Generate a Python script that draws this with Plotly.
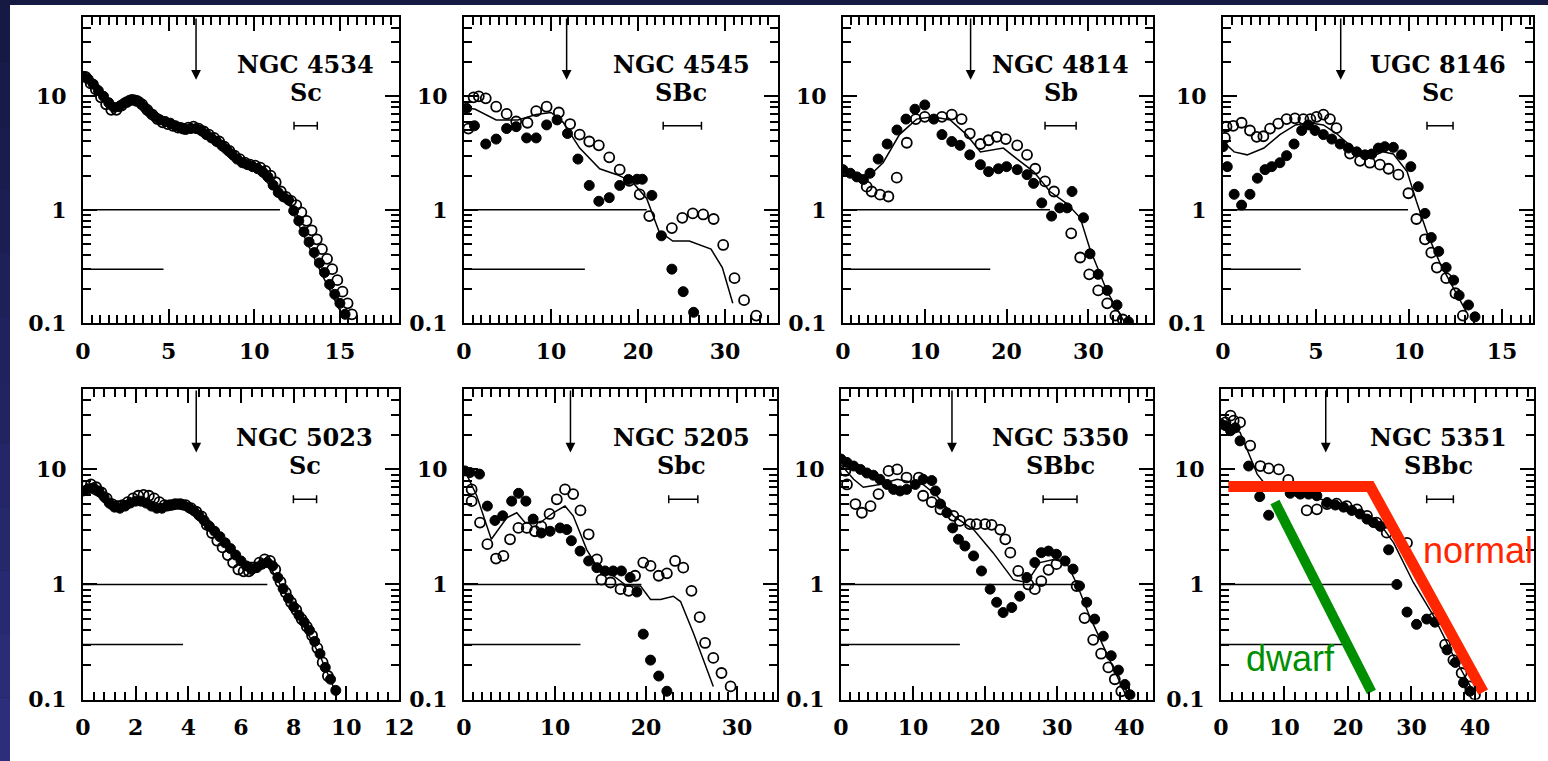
import numpy as np
import plotly.graph_objects as go

W, H = 1548, 761

# ---------------- data ----------------
names = ["NGC 4534", "NGC 4545", "NGC 4814", "UGC 8146",
         "NGC 5023", "NGC 5205", "NGC 5350", "NGC 5351"]
types = ["Sc", "SBc", "Sb", "Sc", "Sc", "Sbc", "SBbc", "SBbc"]
x_max = [18.45, 36.1, 37.9, 16.67, 12.0, 34.4, 43.3, 49.3]
x_major = [5, 10, 10, 5, 2, 10, 10, 10]
x_minor = [0.5, 1, 1, 0.5, 0.4, 1, 1.25, 5 / 3]
y_ticks = [0.1, 1, 10]
y_ticktext = ["0.1", "1", "10"]
y_minor = [0.2, 0.3, 0.4, 0.5, 0.6, 0.7, 0.8, 0.9, 2, 3, 4, 5, 6, 7, 8, 9, 20, 30, 40]
y_min, y_max = 0.1, 50

arrow_r = [6.6, 11.8, 15.6, 6.33, 4.3, 11.7, 15.4, 16.5]
arrow_tip = 14
unity_end = [11.5, 21.0, 25.3, 9.95, 7.0, 19.5, 32.7, 27.1]
low_end = [4.7, 13.9, 18.0, 4.18, 3.8, 12.8, 16.5, 19.2]
low_level = 0.3
label_r = [13.0, 25.0, 26.6, 11.57, 8.43, 23.9, 30.4, 34.2]
label_mu_name = 19.0
label_mu_type = 10.8
err_r = [13.0, 25.1, 26.6, 11.67, 8.43, 24.1, 30.4, 34.5]
err_half = [0.68, 2.2, 1.9, 0.7, 0.44, 1.6, 2.35, 2.1]
err_mu = 5.5

# NGC 4534
p1_r_fill = [0.0, 0.3, 0.6, 0.9, 1.2, 1.5, 1.8, 2.1, 2.4, 2.7, 3.0, 3.3, 3.6, 3.9, 4.2, 4.5, 4.8, 5.1, 5.4, 5.7,
             6.0, 6.3, 6.6, 6.9, 7.2, 7.5, 7.8, 8.1, 8.4, 8.7, 9.0, 9.3, 9.6, 9.9, 10.2, 10.5, 10.8, 11.1, 11.4,
             11.7, 12.0, 12.3, 12.6, 12.9, 13.2, 13.5, 13.8, 14.1, 14.4, 14.7, 15.0, 15.3]
p1_mu_fill = [15.0, 14.2, 12.8, 11.2, 10.0, 8.8, 8.0, 8.1, 8.7, 9.2, 9.3, 8.9, 8.0, 7.2, 6.6, 6.2, 6.0, 5.8, 5.5,
              5.3, 5.1, 5.2, 5.2, 5.0, 4.6, 4.3, 4.0, 3.7, 3.4, 3.1, 2.8, 2.6, 2.5, 2.4, 2.3, 2.15, 1.95, 1.65,
              1.42, 1.3, 1.22, 0.98, 0.8, 0.64, 0.52, 0.42, 0.34, 0.28, 0.22, 0.18, 0.15, 0.12]
p1_r_open = [0.15, 0.45, 0.75, 1.05, 1.35, 1.65, 1.95, 2.25, 2.55, 2.85, 3.15, 3.45, 3.75, 4.05, 4.35, 4.65, 4.95,
             5.25, 5.55, 5.85, 6.15, 6.45, 6.75, 7.05, 7.35, 7.65, 7.95, 8.25, 8.55, 8.85, 9.15, 9.45, 9.75, 10.05,
             10.35, 10.65, 10.95, 11.25, 11.55, 11.85, 12.15, 12.45, 12.75, 13.05, 13.35, 13.65, 13.95, 14.25,
             14.55, 14.85, 15.15, 15.45, 15.7]
p1_mu_open = [14.8, 13.0, 11.5, 9.8, 8.5, 7.6, 7.6, 8.3, 8.9, 9.3, 9.1, 8.5, 7.6, 6.9, 6.3, 5.9, 5.7, 5.5, 5.3,
              5.2, 5.3, 5.4, 5.2, 4.9, 4.6, 4.3, 4.0, 3.6, 3.3, 3.0, 2.8, 2.6, 2.5, 2.45, 2.35, 2.2, 2.0, 1.75,
              1.45, 1.3, 1.2, 1.1, 0.95, 0.8, 0.66, 0.55, 0.45, 0.37, 0.3, 0.24, 0.19, 0.15, 0.12]
p1_r_line = [0, 1, 2, 3, 4, 5, 6, 7, 8, 9, 10, 11, 12, 13, 14, 15]
p1_mu_line = [15, 10.8, 7.9, 9.2, 6.7, 5.8, 5.2, 4.7, 3.7, 2.7, 2.3, 1.6, 1.15, 0.55, 0.26, 0.13]

# NGC 4545
p2_r_open = [0.5, 1.1, 1.7, 2.5, 3.7, 4.9, 6.0, 7.3, 8.3, 9.5, 10.9, 12.2, 13.3, 14.4, 15.5, 16.7, 17.9, 19.0,
             20.2, 21.3, 23.9, 25.1, 26.3, 27.5, 28.7, 29.8, 31.1, 32.2, 33.6]
p2_mu_open = [5.2, 9.8, 10.0, 9.6, 8.1, 7.0, 6.0, 5.85, 7.4, 8.1, 7.2, 5.7, 4.6, 4.0, 3.7, 2.9, 2.26, 1.8, 1.37,
              0.88, 0.69, 0.85, 0.93, 0.91, 0.83, 0.49, 0.25, 0.16, 0.117]
p2_r_fill = [0.3, 1.2, 2.5, 3.7, 4.9, 6.0, 7.2, 8.3, 9.5, 10.7, 11.9, 13.1, 14.4, 15.5, 16.7, 17.9, 18.9, 19.9,
             20.5, 21.6, 22.7, 23.9, 25.2, 26.4]
p2_mu_fill = [7.85, 5.5, 3.8, 4.2, 5.2, 5.4, 4.3, 4.3, 5.6, 6.2, 4.7, 2.8, 1.64, 1.19, 1.28, 1.64, 1.85, 1.86,
              1.86, 1.34, 0.59, 0.30, 0.19, 0.125]
p2_r_line = [0, 1.3, 3.7, 6.2, 8.3, 10.0, 11.4, 13.3, 15.6, 17.5, 19.3, 21.0, 22.4, 24.0, 25.9, 28.4, 29.7, 30.9]
p2_mu_line = [8.0, 7.7, 6.2, 6.2, 6.9, 7.2, 5.9, 3.5, 2.3, 2.05, 1.78, 1.26, 0.65, 0.53, 0.53, 0.45, 0.31, 0.15]

# NGC 4814
p3_r_open = [2.9, 3.5, 4.53, 5.55, 6.57, 7.8, 8.9, 10.0, 12.1, 13.3, 14.5, 15.5, 16.8, 17.8, 18.8, 19.9, 21.3,
             22.5, 23.5, 24.7, 25.8, 27.9, 29.0, 30.1, 31.2, 32.3, 33.3, 34.2]
p3_mu_open = [1.6, 1.45, 1.36, 1.31, 1.92, 3.9, 6.3, 6.6, 6.6, 6.9, 6.3, 4.7, 3.8, 4.1, 4.4, 4.2, 3.7, 3.05,
              2.3, 1.78, 1.45, 0.62, 0.38, 0.27, 0.195, 0.15, 0.117, 0.108]
p3_r_fill = [0, 0.9, 1.7, 2.5, 3.3, 4.3, 5.4, 6.6, 7.7, 8.8, 10.0, 11.1, 12.1, 13.3, 14.3, 15.5, 16.8, 17.8,
             19.0, 20.0, 21.3, 22.5, 23.3, 24.3, 25.5, 26.5, 27.4, 28.0, 29.4, 30.2, 31.2, 32.3, 33.5, 34.9]
p3_mu_fill = [2.26, 2.1, 1.95, 1.85, 2.1, 2.8, 3.8, 5.05, 6.3, 7.7, 8.4, 6.3, 4.6, 4.0, 3.7, 3.05, 2.5, 2.17,
              2.3, 2.4, 2.26, 2.04, 1.71, 1.15, 0.88, 1.04, 1.04, 1.45, 0.85, 0.41, 0.27, 0.195, 0.145, 0.103]
p3_r_line = [0, 2.9, 4.9, 6.9, 9.0, 11.0, 13.1, 15.1, 16.8, 18.2, 19.6, 21.3, 23.3, 25.3, 27.4, 29.0, 30.2,
             32.3, 34.5]
p3_mu_line = [2.26, 1.9, 2.6, 4.6, 6.3, 6.6, 6.2, 4.6, 3.24, 3.36, 3.5, 2.8, 2.17, 1.45, 1.13, 0.85, 0.45,
              0.19, 0.1]

# UGC 8146
p4_r_open = [0.1, 0.19, 0.55, 1.0, 1.45, 1.81, 2.17, 2.53, 2.97, 3.42, 3.87, 4.32, 4.7, 5.03, 5.4, 5.75, 6.1,
             6.83, 7.37, 7.9, 8.44, 8.9, 9.43, 9.97, 10.4, 10.86, 11.2, 11.5, 12.0, 12.5, 12.9]
p4_mu_open = [4.3, 5.4, 5.5, 5.85, 5.0, 4.4, 4.45, 5.2, 5.75, 6.3, 6.4, 6.3, 6.3, 6.6, 6.9, 6.3, 5.25, 3.13,
              2.7, 2.6, 2.5, 2.3, 2.04, 1.4, 0.83, 0.55, 0.42, 0.31, 0.25, 0.184, 0.117]
p4_r_fill = [0, 0.23, 0.6, 1.0, 1.45, 1.85, 2.26, 2.62, 3.06, 3.42, 3.82, 4.23, 4.59, 4.95, 5.4, 5.85, 6.3,
             6.74, 7.19, 7.64, 8.0, 8.36, 8.7, 9.16, 9.6, 10.1, 10.5, 10.86, 11.2, 11.6, 12.0, 12.4, 12.7,
             13.2, 13.55]
p4_mu_fill = [3.6, 2.4, 1.37, 1.1, 1.37, 1.9, 2.26, 2.4, 2.6, 3.0, 3.8, 5.0, 5.6, 5.0, 4.6, 4.2, 3.8, 3.5,
              3.24, 3.05, 3.1, 3.5, 3.6, 3.55, 3.05, 2.4, 1.6, 0.93, 0.57, 0.43, 0.31, 0.24, 0.176, 0.145, 0.114]
p4_r_line = [0, 0.6, 1.3, 2.2, 3.06, 3.9, 4.6, 5.4, 6.1, 7.0, 7.9, 8.6, 9.16, 9.9, 10.4, 11.0, 11.7, 12.4, 13.1]
p4_mu_line = [4.0, 3.24, 3.05, 3.5, 4.6, 5.6, 5.85, 5.6, 4.7, 3.5, 2.9, 3.24, 3.1, 2.17, 1.19, 0.61, 0.33,
              0.2, 0.125]

# NGC 5023
p5_r_fill = [0.0, 0.2, 0.4, 0.6, 0.8, 1.0, 1.2, 1.4, 1.6, 1.8, 2.0, 2.2, 2.4, 2.6, 2.8, 3.0, 3.2, 3.4, 3.6, 3.8,
             4.0, 4.2, 4.4, 4.6, 4.8, 5.0, 5.2, 5.4, 5.6, 5.8, 6.0, 6.2, 6.4, 6.6, 6.8, 7.0, 7.2, 7.4, 7.6, 7.8,
             8.0, 8.2, 8.4, 8.6, 8.8, 9.0, 9.2, 9.4, 9.6]
p5_mu_fill = [6.5, 6.8, 6.9, 6.5, 5.8, 5.1, 4.7, 4.6, 4.8, 5.1, 5.3, 5.3, 5.1, 4.8, 4.6, 4.6, 4.8, 4.9, 5.0,
              4.9, 4.7, 4.4, 4.0, 3.6, 3.2, 2.9, 2.6, 2.3, 2.05, 1.8, 1.6, 1.45, 1.35, 1.4, 1.5, 1.55, 1.45,
              1.15, 0.92, 0.76, 0.64, 0.54, 0.47, 0.4, 0.32, 0.25, 0.19, 0.15, 0.12]
p5_r_open = [0.1, 0.3, 0.5, 0.7, 0.9, 1.1, 1.3, 1.5, 1.7, 1.9, 2.1, 2.3, 2.5, 2.7, 2.9, 3.1, 3.3, 3.5, 3.7, 3.9,
             4.1, 4.3, 4.5, 4.7, 4.9, 5.1, 5.3, 5.5, 5.7, 5.9, 6.1, 6.3, 6.5, 6.7, 6.9, 7.1, 7.3, 7.5, 7.7, 7.9,
             8.1, 8.3, 8.5, 8.7, 8.9, 9.1, 9.3]
p5_mu_open = [7.2, 7.4, 7.0, 6.3, 5.6, 5.0, 4.8, 4.9, 5.2, 5.6, 5.9, 6.0, 5.9, 5.6, 5.2, 4.9, 4.9, 5.0, 5.0, 4.9,
              4.6, 4.3, 3.9, 3.3, 2.8, 2.4, 2.1, 1.8, 1.55, 1.35, 1.3, 1.3, 1.4, 1.55, 1.65, 1.6, 1.35, 1.05,
              0.85, 0.7, 0.6, 0.5, 0.43, 0.36, 0.28, 0.21, 0.16]
p5_r_line = [0, 1, 2, 3, 4, 5, 6, 7, 8, 9, 9.6]
p5_mu_line = [6.8, 5.2, 5.4, 4.8, 4.8, 2.9, 1.55, 1.55, 0.63, 0.24, 0.115]

# NGC 5205
p6_r_open = [0.84, 0.84, 1.76, 2.57, 3.52, 4.33, 5.06, 5.98, 6.9, 7.8, 8.5, 9.4, 10.2, 11.1, 12.0, 12.8, 13.7,
             14.6, 15.1, 16.1, 17.2, 18.1, 18.8, 19.7, 20.5, 21.4, 22.3, 23.2, 24.1, 25.0, 25.9, 26.5, 27.4,
             28.3, 29.3]
p6_mu_open = [6.7, 5.3, 3.45, 2.24, 1.68, 1.77, 2.47, 3.1, 3.1, 2.9, 3.2, 4.1, 5.5, 6.7, 6.1, 4.4, 2.73, 1.65,
              1.1, 1.04, 0.91, 0.88, 1.19, 1.55, 1.45, 1.19, 1.25, 1.6, 1.4, 0.88, 0.52, 0.31, 0.23, 0.17, 0.13]
p6_r_fill = [0.1, 0.66, 1.7, 2.57, 3.4, 4.25, 5.24, 6.0, 6.8, 7.6, 8.5, 9.46, 10.56, 11.3, 11.8, 12.76, 13.7,
             14.6, 15.5, 16.4, 17.3, 18.26, 19.0, 19.7, 20.5, 21.4, 22.3]
p6_mu_fill = [9.7, 9.4, 9.1, 4.8, 3.6, 3.95, 5.3, 6.2, 5.3, 3.7, 2.8, 2.9, 3.1, 3.0, 2.4, 1.95, 1.6, 1.4, 1.31,
              1.31, 1.31, 1.15, 0.86, 0.37, 0.22, 0.16, 0.118]
p6_r_line = [0.1, 1.4, 3.0, 4.7, 5.8, 6.7, 8.4, 9.8, 11.1, 12.0, 13.5, 15.0, 16.4, 17.9, 19.4, 20.5, 21.6,
             23.0, 23.8, 25.2, 27.4]
p6_mu_line = [9.7, 5.9, 2.47, 3.8, 4.2, 3.45, 3.45, 4.2, 4.8, 3.95, 2.0, 1.27, 1.19, 0.97, 0.97, 0.74, 0.74,
              0.79, 0.71, 0.38, 0.13]

# NGC 5350
p7_r_fill = [0, 0.83, 1.75, 2.7, 3.6, 4.5, 5.4, 6.4, 7.3, 8.2, 9.1, 10.3, 11.4, 12.6, 13.1, 13.8, 14.7, 15.5,
             16.3, 17.2, 18.4, 19.5, 20.7, 21.6, 22.5, 23.7, 24.8, 25.8, 26.9, 27.8, 28.8, 29.9, 31.1, 32.2,
             33.1, 34.1, 35.2, 36.4, 37.5, 38.5, 39.4, 40.1]
p7_mu_fill = [12.3, 11.5, 10.7, 10.0, 9.3, 8.9, 8.2, 7.4, 6.7, 6.5, 6.7, 7.4, 8.2, 8.0, 6.5, 5.0, 4.2, 3.1,
              2.47, 2.16, 1.77, 1.31, 0.91, 0.7, 0.57, 0.63, 0.79, 1.15, 1.55, 1.89, 1.95, 1.83, 1.6, 1.36,
              0.97, 0.7, 0.5, 0.355, 0.24, 0.18, 0.135, 0.11]
p7_r_open = [0.6, 0.83, 2.0, 2.9, 4.1, 5.2, 6.6, 7.8, 9.1, 10.8, 11.4, 12.6, 13.8, 15.6, 16.5, 17.9, 18.8,
             20.0, 20.9, 22.1, 22.8, 23.5, 24.6, 26.0, 26.9, 27.8, 28.8, 29.9, 32.7, 33.8, 35.0, 36.1, 37.1,
             38.0, 38.9]
p7_mu_open = [9.7, 7.4, 5.0, 4.2, 4.8, 6.1, 9.7, 10.0, 8.5, 8.5, 5.9, 5.2, 4.5, 3.95, 3.57, 3.34, 3.34, 3.34,
              3.3, 3.0, 2.47, 1.89, 1.31, 1.0, 0.91, 1.07, 1.34, 1.5, 0.97, 0.51, 0.33, 0.25, 0.19, 0.15, 0.118]
p7_r_line = [0, 1.75, 3.1, 5.4, 7.8, 9.6, 11.4, 13.3, 15.6, 18.4, 21.1, 23.9, 25.8, 27.6, 29.5, 31.3, 32.7,
             34.5, 36.8, 39.8]
p7_mu_line = [11.0, 8.2, 7.0, 7.4, 8.2, 7.8, 7.4, 5.9, 3.95, 3.0, 1.89, 1.1, 1.04, 1.55, 1.65, 1.55, 1.02,
              0.53, 0.255, 0.1]

# NGC 5351
p8_r_fill = [0, 0.7, 1.5, 2.25, 3.0, 4.35, 6.1, 7.5, 10.9, 12.5, 13.8, 15.1, 16.7, 18.0, 19.3, 20.6, 21.9,
             23.0, 24.0, 25.1, 26.4, 27.7, 29.3, 30.8, 32.4, 33.7, 35.6, 36.9, 38.2, 39.2]
p8_mu_fill = [24.8, 24.0, 21.7, 23.0, 17.7, 10.7, 5.8, 4.0, 6.2, 6.1, 6.1, 5.9, 5.15, 4.9, 4.7, 4.4, 4.1, 3.7,
              3.45, 3.2, 2.0, 1.0, 0.575, 0.45, 0.5, 0.47, 0.27, 0.21, 0.14, 0.118]
p8_r_open = [0.7, 1.5, 2.0, 3.0, 4.6, 6.2, 7.5, 9.1, 10.6, 12.2, 13.5, 15.1, 16.7, 18.2, 19.8, 21.4, 23.0,
             24.5, 26.1, 29.3, 33.5, 35.3, 36.6, 37.9, 39.2, 40.0]
p8_mu_open = [25.6, 29.3, 26.5, 25.6, 16.1, 10.7, 10.2, 10.0, 8.1, 6.4, 4.4, 4.5, 5.0, 5.05, 4.8, 4.5, 3.95,
              3.45, 2.82, 2.3, 0.51, 0.3, 0.22, 0.17, 0.13, 0.11]
p8_r_line = [0, 3.0, 5.7, 7.8, 10.9, 14.6, 18.8, 23.0, 25.1, 27.2, 30.3, 33.5, 36.6, 39.7]
p8_mu_line = [24.8, 21.0, 9.1, 6.5, 6.5, 5.7, 5.0, 3.95, 3.34, 2.3, 1.04, 0.53, 0.24, 0.118]

# overlay sketch lines on NGC 5351
normal_r = [1.15, 23.5, 41.3]
normal_mu = [7.1, 7.1, 0.116]
dwarf_r = [8.5, 23.7]
dwarf_mu = [5.2, 0.116]
normal_label = (40.5, 1.98)
dwarf_label = (10.9, 0.227)

open_r = [p1_r_open, p2_r_open, p3_r_open, p4_r_open, p5_r_open, p6_r_open, p7_r_open, p8_r_open]
open_mu = [p1_mu_open, p2_mu_open, p3_mu_open, p4_mu_open, p5_mu_open, p6_mu_open, p7_mu_open, p8_mu_open]
fill_r = [p1_r_fill, p2_r_fill, p3_r_fill, p4_r_fill, p5_r_fill, p6_r_fill, p7_r_fill, p8_r_fill]
fill_mu = [p1_mu_fill, p2_mu_fill, p3_mu_fill, p4_mu_fill, p5_mu_fill, p6_mu_fill, p7_mu_fill, p8_mu_fill]
line_r = [p1_r_line, p2_r_line, p3_r_line, p4_r_line, p5_r_line, p6_r_line, p7_r_line, p8_r_line]
line_mu = [p1_mu_line, p2_mu_line, p3_mu_line, p4_mu_line, p5_mu_line, p6_mu_line, p7_mu_line, p8_mu_line]

# ---------------- layout geometry (pixels) ----------------
col_px = [(83, 399), (464, 778), (843, 1153), (1223, 1533),
          (83, 399), (464, 777), (841, 1153), (1221, 1534)]
row_px = [(17, 323.3), (389, 699.5)]

SERIF = "DejaVu Serif"
fig = go.Figure()
layout = dict(width=W, height=H, margin=dict(l=0, r=0, t=0, b=0),
              paper_bgcolor="#1f2259", plot_bgcolor="white", showlegend=False,
              template="none")
annotations = []

for i in range(8):
    n = i + 1
    xa = "x" if n == 1 else f"x{n}"
    ya = "y" if n == 1 else f"y{n}"
    l, r = col_px[i]
    t, b = row_px[i // 4]
    common = dict(showline=True, linecolor="black", linewidth=2, mirror="allticks",
                  ticks="inside", tickcolor="black", tickwidth=1.5, ticklen=14,
                  showgrid=False, zeroline=False, automargin=False,
                  tickfont=dict(family=SERIF, size=22, color="black", weight="bold"))
    layout["xaxis" if n == 1 else f"xaxis{n}"] = dict(
        common, domain=[l / W, r / W], anchor=ya, range=[0, x_max[i]],
        tick0=0, dtick=x_major[i], ticklabelstandoff=7,
        minor=dict(ticks="inside", ticklen=8, tickwidth=1.5, tickcolor="black",
                   tick0=0, dtick=x_minor[i], showgrid=False))
    layout["yaxis" if n == 1 else f"yaxis{n}"] = dict(
        common, domain=[1 - b / H, 1 - t / H], anchor=xa, type="log",
        range=[np.log10(y_min), np.log10(y_max)],
        tickvals=y_ticks, ticktext=y_ticktext, ticklabelstandoff=10,
        minor=dict(ticks="inside", ticklen=8, tickwidth=1.5, tickcolor="black",
                   tickvals=y_minor, showgrid=False))

    # reference levels
    fig.add_trace(go.Scatter(x=[0, unity_end[i]], y=[1, 1], mode="lines",
                             line=dict(color="black", width=1.5), xaxis=xa, yaxis=ya))
    fig.add_trace(go.Scatter(x=[0, low_end[i]], y=[low_level, low_level], mode="lines",
                             line=dict(color="black", width=1.5), xaxis=xa, yaxis=ya))
    # model line
    fig.add_trace(go.Scatter(x=line_r[i], y=line_mu[i], mode="lines",
                             line=dict(color="black", width=1.5), xaxis=xa, yaxis=ya))
    # open and filled points
    fig.add_trace(go.Scatter(x=open_r[i], y=open_mu[i], mode="markers",
                             marker=dict(symbol="circle-open", size=10, color="black",
                                         line=dict(color="black", width=1.8)),
                             xaxis=xa, yaxis=ya))
    fig.add_trace(go.Scatter(x=fill_r[i], y=fill_mu[i], mode="markers",
                             marker=dict(symbol="circle", size=10, color="black",
                                         line=dict(color="black", width=1)),
                             xaxis=xa, yaxis=ya))
    # resolution bar
    fig.add_trace(go.Scatter(x=[err_r[i]], y=[err_mu], mode="markers",
                             marker=dict(size=1, color="rgba(0,0,0,0)"),
                             error_x=dict(type="data", array=[err_half[i]], visible=True,
                                          color="black", thickness=1.5, width=4),
                             xaxis=xa, yaxis=ya))
    # arrow
    annotations.append(dict(x=arrow_r[i], y=np.log10(arrow_tip), ax=arrow_r[i],
                            ay=np.log10(y_max), xref=xa, yref=ya, axref=xa, ayref=ya,
                            text="", showarrow=True, arrowhead=2, arrowsize=1.3,
                            arrowwidth=1.5, arrowcolor="black", standoff=0, startstandoff=0))
    annotations.append(dict(x=label_r[i], y=np.log10(label_mu_name), xref=xa, yref=ya,
                            text=names[i], showarrow=False,
                            font=dict(family=SERIF, size=24, color="black", weight="bold")))
    annotations.append(dict(x=label_r[i], y=np.log10(label_mu_type), xref=xa, yref=ya,
                            text=types[i], showarrow=False,
                            font=dict(family=SERIF, size=24, color="black", weight="bold")))

# red / green overlay in last panel
fig.add_trace(go.Scatter(x=dwarf_r, y=dwarf_mu, mode="lines",
                         line=dict(color="#008f00", width=10), xaxis="x8", yaxis="y8"))
fig.add_trace(go.Scatter(x=normal_r, y=normal_mu, mode="lines",
                         line=dict(color="#ff2600", width=11), xaxis="x8", yaxis="y8"))
annotations.append(dict(x=normal_label[0], y=np.log10(normal_label[1]), xref="x8", yref="y8",
                        text="normal", showarrow=False,
                        font=dict(family="Liberation Sans", size=36, color="#ff2600")))
annotations.append(dict(x=dwarf_label[0], y=np.log10(dwarf_label[1]), xref="x8", yref="y8",
                        text="dwarf", showarrow=False,
                        font=dict(family="Liberation Sans", size=36, color="#008f00")))

# slide background: white page with dark-blue frame on top and left
shapes = [dict(type="rect", xref="paper", yref="paper", x0=10 / W, x1=1, y0=0, y1=1 - 5 / H,
               fillcolor="white", line=dict(width=0), layer="below")]
nb = 12
for k in range(nb):
    f = k / (nb - 1)
    c = (int(22 + f * 22), int(25 + f * 21), int(68 + f * 56))
    shapes.append(dict(type="rect", xref="paper", yref="paper", x0=0, x1=10 / W,
                       y0=1 - (k + 1) / nb, y1=1 - k / nb,
                       fillcolor=f"rgb{c}", line=dict(width=0), layer="below"))
shapes.append(dict(type="rect", xref="paper", yref="paper", x0=0, x1=1, y0=1 - 5 / H, y1=1,
                   fillcolor="rgb(22,25,66)", line=dict(width=0), layer="below"))
layout["shapes"] = shapes
layout["annotations"] = annotations
fig.update_layout(**layout)
fig.write_html("out.html")
